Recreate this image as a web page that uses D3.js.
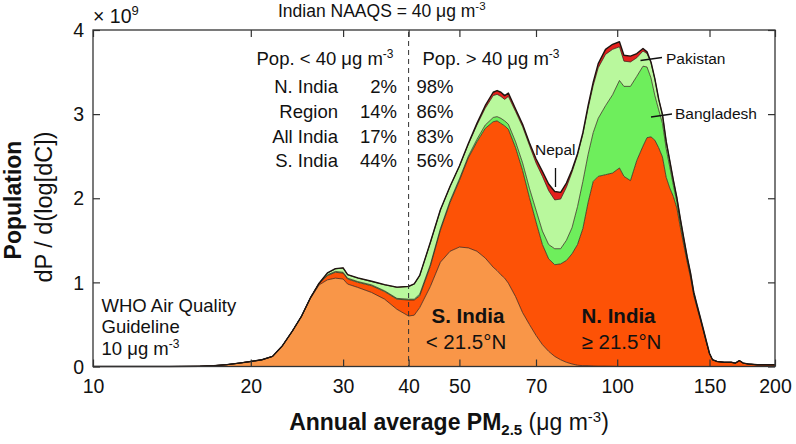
<!DOCTYPE html>
<html>
<head>
<meta charset="utf-8">
<script src="https://cdn.jsdelivr.net/npm/d3@7"></script>
<style>
  html, body { margin: 0; padding: 0; background: #fff; }
  svg { display: block; font-family: "Liberation Sans", Arial, Helvetica, sans-serif; }
</style>
</head>
<body>
<svg id="chart" width="796" height="444"></svg>
<script>
// PM2.5 concentration bins (µg m-3)
const pm = [10, 14, 16, 17, 18, 19, 20, 21, 22, 23,
  24, 25, 26, 27, 28, 29, 30, 30.6, 32, 34,
  36, 38, 40, 41, 42, 44, 46, 48, 50, 52,
  54, 56, 58, 59, 60, 61, 62, 64, 66, 68,
  70, 72, 74, 76, 78, 80, 82, 84, 86, 88,
  90, 92, 95, 98, 101, 103, 106, 109, 112, 114,
  116, 118, 120, 122, 124, 126, 128, 130, 132, 134,
  136, 138, 140, 142, 144, 146, 148, 150, 152, 155,
  160, 165, 168, 171, 174, 178, 185, 200];

// layer values (x 10^9), bottom to top
const sIndia = [0, 0, 0.003, 0.01, 0.022, 0.04, 0.06, 0.08, 0.12, 0.25,
  0.42, 0.60, 0.81, 0.97, 1.03, 1.05, 1.04, 0.98, 0.94, 0.88,
  0.80, 0.68, 0.60, 0.61, 0.70, 0.95, 1.24, 1.37, 1.42, 1.41,
  1.37, 1.29, 1.18, 1.14, 1.09, 1.05, 0.99, 0.83, 0.64, 0.50,
  0.37, 0.26, 0.18, 0.12, 0.08, 0.05, 0.03, 0.015, 0.01, 0.01,
  0.005, 0.003, 0.003, 0.002, 0, 0, 0, 0, 0, 0,
  0, 0, 0, 0, 0, 0, 0, 0, 0, 0,
  0, 0, 0, 0, 0, 0, 0, 0, 0, 0,
  0, 0, 0, 0, 0, 0, 0, 0];

const nIndia = [0, 0, 0, 0, 0, 0, 0, 0, 0, 0,
  0, 0, 0.01, 0.02, 0.05, 0.07, 0.07, 0.06, 0.06, 0.08,
  0.09, 0.12, 0.19, 0.18, 0.14, 0.24, 0.38, 0.58, 0.79, 1.07,
  1.30, 1.54, 1.73, 1.78, 1.80, 1.81, 1.83, 1.77, 1.69, 1.51,
  1.35, 1.19, 1.10, 1.09, 1.14, 1.21, 1.31, 1.435, 1.63, 1.94,
  2.195, 2.257, 2.277, 2.298, 2.36, 2.26, 2.21, 2.45, 2.62, 2.72,
  2.73, 2.69, 2.60, 2.49, 2.25, 2.12, 2.02, 1.88, 1.65, 1.44,
  1.24, 1.06, 0.84, 0.70, 0.56, 0.42, 0.28, 0.15, 0.08, 0.06,
  0.05, 0.05, 0.04, 0.07, 0.04, 0.03, 0.02, 0.02];

const bangladesh = [0, 0, 0, 0, 0, 0, 0, 0, 0, 0,
  0, 0, 0, 0, 0.01, 0.01, 0.01, 0.01, 0.01, 0.01,
  0.01, 0.01, 0.01, 0.01, 0.02, 0.02, 0.02, 0.02, 0.02, 0.02,
  0.03, 0.04, 0.05, 0.05, 0.06, 0.06, 0.06, 0.07, 0.09, 0.11,
  0.14, 0.16, 0.17, 0.19, 0.18, 0.24, 0.31, 0.45, 0.56, 0.57,
  0.58, 0.69, 0.82, 0.93, 1.04, 1.07, 1.12, 1.00, 0.95, 0.84,
  0.70, 0.53, 0.45, 0.40, 0.34, 0.25, 0.13, 0.07, 0.06, 0.04,
  0.03, 0.02, 0.02, 0.01, 0.01, 0.01, 0.005, 0, 0, 0,
  0, 0, 0, 0, 0, 0, 0, 0];

const pakistan = [0, 0, 0, 0, 0, 0, 0, 0, 0, 0,
  0, 0, 0, 0, 0.02, 0.03, 0.05, 0.04, 0.04, 0.04,
  0.07, 0.13, 0.15, 0.18, 0.22, 0.26, 0.22, 0.17, 0.15, 0.14,
  0.17, 0.20, 0.26, 0.265, 0.26, 0.255, 0.33, 0.36, 0.43, 0.51,
  0.56, 0.65, 0.64, 0.58, 0.59, 0.63, 0.66, 0.61, 0.56, 0.55,
  0.56, 0.60, 0.61, 0.54, 0.40, 0.30, 0.29, 0.22, 0.18, 0.16,
  0.18, 0.195, 0.125, 0.10, 0.085, 0.07, 0.06, 0.05, 0.04, 0.04,
  0.03, 0.03, 0.02, 0.02, 0.015, 0.01, 0.01, 0.005, 0, 0,
  0, 0, 0, 0, 0, 0, 0, 0];

const nepal = [0, 0, 0, 0, 0, 0, 0, 0, 0, 0,
  0, 0, 0, 0, 0.003, 0.003, 0.003, 0.003, 0.003, 0.003,
  0.003, 0.003, 0.003, 0.003, 0.003, 0.003, 0.003, 0.003, 0.003, 0.01,
  0.02, 0.03, 0.04, 0.045, 0.05, 0.045, 0.04, 0.03, 0.03, 0.03,
  0.05, 0.06, 0.08, 0.10, 0.08, 0.05, 0.03, 0.02, 0.02, 0.03,
  0.04, 0.05, 0.06, 0.06, 0.06, 0.07, 0.07, 0.05, 0.03, 0.02,
  0.01, 0.005, 0.003, 0.003, 0.003, 0.003, 0.003, 0.003, 0.003, 0.003,
  0.003, 0.003, 0.003, 0.003, 0.003, 0.003, 0.003, 0.003, 0, 0,
  0, 0, 0, 0, 0, 0, 0, 0];

const seriesKeys = ["sIndia", "nIndia", "bangladesh", "pakistan", "nepal"];
const seriesColors = ["#f99648", "#fd5206", "#6eee5c", "#b9f89d", "#e4201c"];
const xTicks = [10, 20, 30, 40, 50, 70, 100, 150, 200];
const yTicks = [0, 1, 2, 3, 4];

const rowLabels = ["N. India", "Region", "All India", "S. India"];
const below40 = ["2%", "14%", "17%", "44%"];
const above40 = ["98%", "86%", "83%", "56%"];

// ---- build table ----
const table = pm.map((v, i) => ({
  pm: v, sIndia: sIndia[i], nIndia: nIndia[i], bangladesh: bangladesh[i],
  pakistan: pakistan[i], nepal: nepal[i]
}));

const L = 93, R = 775, T = 30, B = 366.5;
const svg = d3.select("#chart");
const x = d3.scaleLog().domain([10, 200]).range([L, R]);
const y = d3.scaleLinear().domain([0, 4]).range([B, T]);

const stacked = d3.stack().keys(seriesKeys)(table);

const area = d3.area()
  .x(d => x(d.data.pm)).y0(d => y(d[0])).y1(d => y(d[1]));
const topLine = d3.line().x(d => x(d.data.pm)).y(d => y(d[1]));

const g = svg.append("g");
g.selectAll("path.layer").data(stacked).join("path")
  .attr("class", "layer")
  .attr("d", area)
  .attr("fill", (d, i) => seriesColors[i]);

// layer boundaries
g.selectAll("path.bound").data(stacked.slice(0, 4)).join("path")
  .attr("class", "bound")
  .attr("d", topLine)
  .attr("fill", "none")
  .attr("stroke", "#2a1a12")
  .attr("stroke-width", 0.7);

// outer outline
g.append("path").datum(stacked[4])
  .attr("d", topLine)
  .attr("fill", "none")
  .attr("stroke", "#1e1410")
  .attr("stroke-width", 1.4)
  .attr("stroke-linejoin", "round");

// dashed NAAQS line
svg.append("line")
  .attr("x1", x(40)).attr("x2", x(40))
  .attr("y1", T + 2).attr("y2", B)
  .attr("stroke", "#333").attr("stroke-width", 1)
  .attr("stroke-dasharray", "5,4");

// ---- axes ----
const fmt = d3.format("d");
const axB = svg.append("g").attr("transform", `translate(0,${B})`)
  .call(d3.axisBottom(x).tickValues(xTicks).tickFormat(fmt).tickSize(-7).tickSizeOuter(0));
const axT = svg.append("g").attr("transform", `translate(0,${T})`)
  .call(d3.axisTop(x).tickValues(xTicks).tickFormat("").tickSize(-7).tickSizeOuter(0));
const axL = svg.append("g").attr("transform", `translate(${L},0)`)
  .call(d3.axisLeft(y).tickValues(yTicks).tickFormat(fmt).tickSize(-7).tickSizeOuter(0));
const axR = svg.append("g").attr("transform", `translate(${R},0)`)
  .call(d3.axisRight(y).tickValues(yTicks).tickFormat("").tickSize(-7).tickSizeOuter(0));

[axB, axT, axL, axR].forEach(a => {
  a.select(".domain").remove();
  a.selectAll(".tick line").attr("stroke", "#333").attr("stroke-width", 1.2);
});
axB.selectAll(".tick text")
  .attr("y", 26.5).attr("dy", 0)
  .attr("font-size", 19.5).attr("fill", "#111")
  .attr("font-family", "Liberation Sans, Arial, sans-serif");
axL.selectAll(".tick text")
  .attr("x", -9).attr("dy", "0.34em")
  .attr("font-size", 19.5).attr("fill", "#111")
  .attr("font-family", "Liberation Sans, Arial, sans-serif");

// frame
svg.append("rect")
  .attr("x", L).attr("y", T).attr("width", R - L).attr("height", B - T)
  .attr("fill", "none").attr("stroke", "#333").attr("stroke-width", 1.3);

// ---- texts ----
const txt = (xp, yp, size, anchor, weight) => svg.append("text")
  .attr("x", xp).attr("y", yp).attr("font-size", size)
  .attr("text-anchor", anchor || "start")
  .attr("font-weight", weight || "normal").attr("fill", "#111");

function unit(t, base, supSize) {
  t.append("tspan").text(base);
  t.append("tspan").attr("dy", -7).attr("font-size", supSize).text("-3");
}

// × 10^9
const e9 = txt(93, 23, 19.5);
e9.append("tspan").text("× 10");
e9.append("tspan").attr("dy", -8).attr("font-size", 13).text("9");

// title
unit(txt(278, 17, 17.5), "Indian NAAQS = 40 μg m", 11.5);

// table headers
unit(txt(256.5, 65, 18.5), "Pop. < 40 μg m", 12);
unit(txt(422.5, 65, 18.5), "Pop. > 40 μg m", 12);

rowLabels.forEach((lab, i) => {
  const yy = 93.3 + i * 24.7;
  txt(338, yy, 18.5, "end").text(lab);
  txt(397, yy, 18.5, "end").text(below40[i]);
  txt(416.5, yy, 18.5, "start").text(above40[i]);
});

// WHO guideline
txt(101.5, 311.5, 18.5).text("WHO Air Quality");
txt(101.5, 333.3, 18.5).text("Guideline");
unit(txt(101.5, 355, 18.5), "10 μg m", 12);

// region labels
txt(468, 323.3, 20.5, "middle", "bold").text("S. India");
txt(466, 349, 20.5, "middle").text("< 21.5°N");
txt(618.5, 323.3, 20.5, "middle", "bold").text("N. India");
txt(621.5, 349, 20.5, "middle").text("≥ 21.5°N");

// country annotations
txt(535, 155, 15.5).text("Nepal");
svg.append("line").attr("x1", 555.5).attr("x2", 555.5).attr("y1", 168).attr("y2", 187)
  .attr("stroke", "#111").attr("stroke-width", 1.3);
txt(666, 64, 15.5).text("Pakistan");
svg.append("line").attr("x1", 640.5).attr("x2", 662).attr("y1", 60.5).attr("y2", 57.5)
  .attr("stroke", "#111").attr("stroke-width", 1.3);
txt(675, 118.5, 15.5).text("Bangladesh");
svg.append("line").attr("x1", 651).attr("x2", 672).attr("y1", 117).attr("y2", 114)
  .attr("stroke", "#111").attr("stroke-width", 1.3);

// axis titles
const xt = txt(449, 430, 23, "middle");
xt.append("tspan").attr("font-weight", "bold").text("Annual average PM");
xt.append("tspan").attr("font-weight", "bold").attr("font-size", 15).attr("dy", 5).text("2.5");
xt.append("tspan").attr("dy", -5).text(" (μg m");
xt.append("tspan").attr("font-size", 15).attr("dy", -8).text("-3");
xt.append("tspan").attr("dy", 8).text(")");

svg.append("text")
  .attr("transform", "translate(21,200) rotate(-90)")
  .attr("text-anchor", "middle").attr("font-size", 23).attr("font-weight", "bold")
  .attr("fill", "#111").text("Population");
svg.append("text")
  .attr("transform", "translate(52,207) rotate(-90)")
  .attr("text-anchor", "middle").attr("font-size", 23.5)
  .attr("fill", "#111").text("dP / d(log[dC])");
</script>
</body>
</html>
